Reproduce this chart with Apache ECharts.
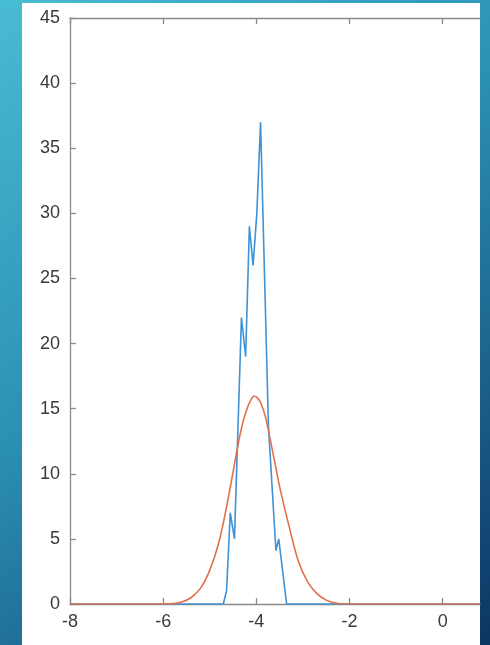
<!DOCTYPE html>
<html>
<head>
<meta charset="utf-8">
<script src="https://cdn.jsdelivr.net/npm/echarts@6/dist/echarts.min.js"></script>
<style>
html,body{margin:0;padding:0;}
#c{width:490px;height:645px;}
</style>
</head>
<body>
<div id="c"></div>
<script>
// Tick labels
var xTicks = [-8, -6, -4, -2, 0];
var yTicks = [0, 5, 10, 15, 20, 25, 30, 35, 40, 45];

// Blue series (jagged density), [x, y]
var blueX = [-8, -4.71, -4.64, -4.56, -4.47, -4.32, -4.23, -4.15, -4.07, -3.99, -3.91, -3.74, -3.58, -3.52, -3.35, 0.8];
var blueY = [0, 0, 1, 7, 5, 22, 19, 29, 26, 30, 37, 13.6, 4.1, 5, 0, 0];

// Orange series (smooth fit), [x, y]
var orangeX = [-8, -6, -5.8, -5.6, -5.4, -5.2, -5.0, -4.8, -4.6, -4.4, -4.3, -4.2, -4.12, -4.05, -3.98, -3.9, -3.8, -3.7, -3.6, -3.5, -3.3, -3.1, -2.9, -2.7, -2.5, -2.3, -2.1, 0.8];
var orangeY = [0, 0, 0.03, 0.15, 0.5, 1.2, 2.6, 4.8, 8.2, 12.1, 13.8, 15.0, 15.65, 15.95, 15.85, 15.4, 14.3, 12.6, 10.8, 9.0, 6.0, 3.3, 1.7, 0.8, 0.3, 0.07, 0, 0];

function pairs(xs, ys) { return xs.map(function (x, i) { return [x, ys[i]]; }); }

var chart = echarts.init(document.getElementById('c'));
var axisCol = '#8a8a8a';
var labelCol = '#3a3a3a';
var font = 'Liberation Sans, Arial, sans-serif';

chart.setOption({
  animation: false,
  graphic: [
    {
      type: 'rect', z: -10, silent: true,
      shape: { x: 0, y: 0, width: 490, height: 645 },
      style: {
        fill: new echarts.graphic.LinearGradient(0, 0, 1, 1, [
          { offset: 0, color: '#48bcd2' },
          { offset: 0.45, color: '#2b8fb2' },
          { offset: 1, color: '#0c3563' }
        ])
      }
    },
    {
      type: 'rect', z: -9, silent: true,
      shape: { x: 22, y: 3, width: 458, height: 642 },
      style: { fill: '#ffffff' }
    }
  ],
  grid: { left: 70, top: 18, right: 10, bottom: 41, containLabel: false },
  xAxis: [
    {
      type: 'value', position: 'bottom', min: -8, max: 0.8, interval: 2,
      axisLine: { show: true, onZero: false, lineStyle: { color: axisCol, width: 1.3 } },
      axisTick: { show: true, inside: true, length: 6, customValues: xTicks, lineStyle: { color: axisCol, width: 1.3 } },
      axisLabel: { color: labelCol, fontSize: 18, fontFamily: font, margin: 9, customValues: xTicks },
      splitLine: { show: false }
    },
    {
      type: 'value', position: 'top', min: -8, max: 0.8, interval: 2,
      axisLine: { show: true, onZero: false, lineStyle: { color: axisCol, width: 1.3 } },
      axisTick: { show: true, inside: true, length: 6, customValues: xTicks, lineStyle: { color: axisCol, width: 1.3 } },
      axisLabel: { show: false },
      splitLine: { show: false }
    }
  ],
  yAxis: {
    type: 'value', position: 'left', min: 0, max: 45, interval: 5,
    axisLine: { show: true, onZero: false, lineStyle: { color: axisCol, width: 1.3 } },
    axisTick: { show: true, inside: true, length: 6, customValues: yTicks, lineStyle: { color: axisCol, width: 1.3 } },
    axisLabel: { color: labelCol, fontSize: 18, fontFamily: font, margin: 10, customValues: yTicks },
    splitLine: { show: false }
  },
  series: [
    {
      type: 'line', data: pairs(blueX, blueY), showSymbol: false, symbol: 'none',
      lineStyle: { color: '#3f92d6', width: 1.6 }, z: 3
    },
    {
      type: 'line', data: pairs(orangeX, orangeY), showSymbol: false, symbol: 'none', smooth: 0.35,
      lineStyle: { color: '#e2704c', width: 1.6 }, z: 4
    }
  ]
});
</script>
</body>
</html>
